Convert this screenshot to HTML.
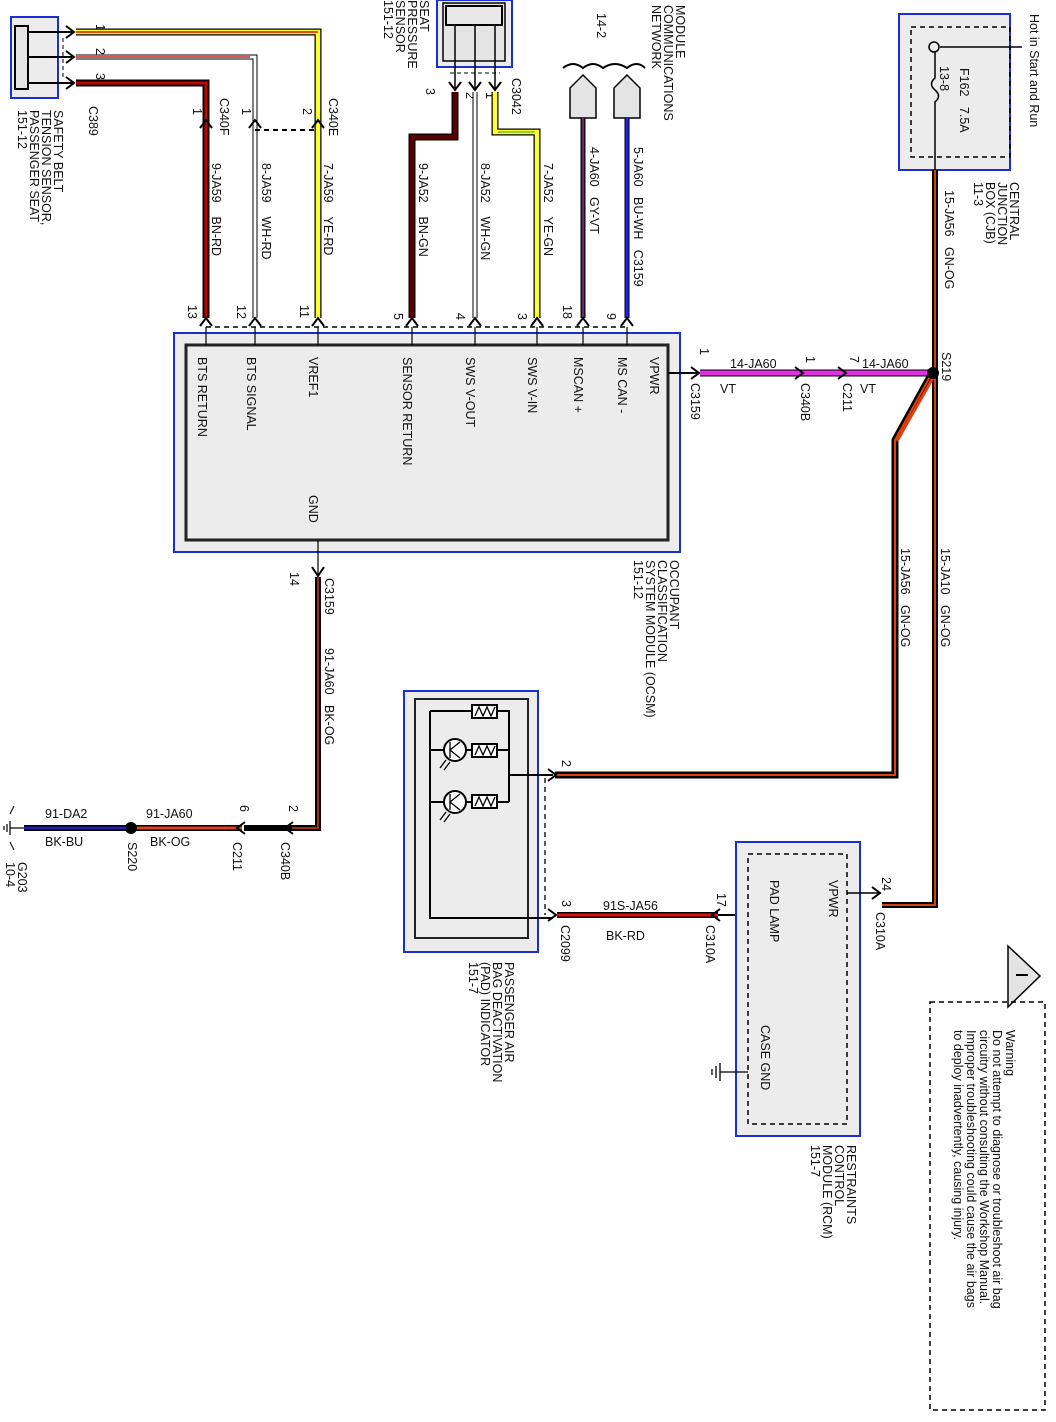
<!DOCTYPE html>
<html><head><meta charset="utf-8"><style>
html,body{margin:0;padding:0;background:#fff}
svg{display:block}
text{font-family:"Liberation Sans",Arial,sans-serif;font-size:12.5px;fill:#111}
</style></head><body>
<svg width="1056" height="1422" viewBox="0 0 1056 1422" xmlns="http://www.w3.org/2000/svg">

<!-- Safety belt sensor -->
<rect x="11" y="17" width="47" height="81" fill="#ececec" stroke="#1a2fd0" stroke-width="2"/>
<rect x="15" y="26" width="13" height="63" fill="#e4e4e4" stroke="#000" stroke-width="2"/>
<g stroke="#000" stroke-width="2"><line x1="28" y1="32" x2="72" y2="32"/><line x1="28" y1="57" x2="72" y2="57"/><line x1="28" y1="83" x2="72" y2="83"/></g>
<line x1="63" y1="38" x2="63" y2="80" stroke="#000" stroke-dasharray="4,3"/>
<g fill="none" stroke="#000" stroke-width="2"><path d="M66 26 L74 32 L66 38"/><path d="M66 51 L74 57 L66 63"/><path d="M66 77 L74 83 L66 89"/></g>
<text x="96" y="24" font-size="11" transform="rotate(90 96 24)">1</text>
<text x="96" y="48" font-size="11" transform="rotate(90 96 48)">2</text>
<text x="96" y="73" font-size="11" transform="rotate(90 96 73)">3</text>

<!-- wires from C389 -->
<path d="M76 32 H318 V318" fill="none" stroke="#000" stroke-width="7"/>
<path d="M76 32 H318 V318" fill="none" stroke="#ffff30" stroke-width="4.5"/>
<path d="M76 32 H318" fill="none" stroke="#e01010" stroke-width="1.5"/>
<path d="M76 57 H255 V318" fill="none" stroke="#000" stroke-width="5"/>
<path d="M76 57 H255 V318" fill="none" stroke="#fff" stroke-width="3"/>
<path d="M76 57 H250" fill="none" stroke="#d02020" stroke-width="1.5"/>
<path d="M76 83 H206 V318" fill="none" stroke="#000" stroke-width="7"/>
<path d="M76 83 H206 V318" fill="none" stroke="#6a0000" stroke-width="4.5"/>
<path d="M76 83 H206 V318" fill="none" stroke="#e01010" stroke-width="1.3"/>
<line x1="255" y1="130" x2="318" y2="130" stroke="#000" stroke-width="2" stroke-dasharray="5,4"/>
<g fill="none" stroke="#000" stroke-width="2"><path d="M200 128 L206 120 L212 128"/><path d="M249 128 L255 120 L261 128"/><path d="M312 128 L318 120 L324 128"/></g>
<text x="193" y="108" font-size="11" transform="rotate(90 193 108)">1</text>
<text x="242" y="108" font-size="11" transform="rotate(90 242 108)">1</text>
<text x="303" y="108" font-size="11" transform="rotate(90 303 108)">2</text>
<text x="220" y="98" transform="rotate(90 220 98)">C340F</text>
<text x="329" y="98" transform="rotate(90 329 98)">C340E</text>
<text x="212" y="163" transform="rotate(90 212 163)">9-JA59 &#160;&#160;&#160;BN-RD</text>
<text x="262" y="163" transform="rotate(90 262 163)">8-JA59 &#160;&#160;&#160;WH-RD</text>
<text x="324" y="163" transform="rotate(90 324 163)">7-JA59 &#160;&#160;&#160;YE-RD</text>
<text x="89" y="106" transform="rotate(90 89 106)">C389</text>
<text x="54" y="110" transform="rotate(90 54 110)">SAFETY BELT</text>
<text x="42" y="110" transform="rotate(90 42 110)">TENSION SENSOR,</text>
<text x="30" y="110" transform="rotate(90 30 110)">PASSENGER SEAT</text>
<text x="18" y="110" transform="rotate(90 18 110)">151-12</text>

<!-- Seat pressure sensor -->
<rect x="437" y="0" width="75" height="67" fill="#ececec" stroke="#1a2fd0" stroke-width="2"/>
<rect x="443" y="3" width="62" height="58" fill="#e4e4e4" stroke="#000" stroke-width="1.5"/>
<rect x="446" y="6" width="56" height="19" fill="#e8e8e8" stroke="#000" stroke-width="2"/>
<g stroke="#000" stroke-width="1.5"><line x1="455" y1="25" x2="455" y2="90"/><line x1="475" y1="25" x2="475" y2="90"/><line x1="495" y1="25" x2="495" y2="90"/></g>
<line x1="450" y1="73" x2="500" y2="73" stroke="#000" stroke-dasharray="4,3"/>
<g fill="none" stroke="#000" stroke-width="2"><path d="M449 82 L455 90 L461 82"/><path d="M469 82 L475 90 L481 82"/><path d="M489 82 L495 90 L501 82"/></g>
<text x="426" y="88" font-size="11" transform="rotate(90 426 88)">3</text>
<text x="466" y="92" font-size="11" transform="rotate(90 466 92)">2</text>
<text x="486" y="92" font-size="11" transform="rotate(90 486 92)">1</text>
<text x="512" y="78" transform="rotate(90 512 78)">C3042</text>
<text x="420" y="0" transform="rotate(90 420 0)">SEAT</text>
<text x="408" y="0" transform="rotate(90 408 0)">PRESSURE</text>
<text x="396" y="0" transform="rotate(90 396 0)">SENSOR</text>
<text x="384" y="0" transform="rotate(90 384 0)">151-12</text>

<path d="M455 92 V137 H412 V318" fill="none" stroke="#000" stroke-width="7"/>
<path d="M455 92 V137 H412 V318" fill="none" stroke="#5a0000" stroke-width="4.5"/>
<path d="M475 92 V318" fill="none" stroke="#000" stroke-width="5"/>
<path d="M475 92 V318" fill="none" stroke="#fff" stroke-width="3"/>
<path d="M495 92 V132 H537 V318" fill="none" stroke="#000" stroke-width="7"/>
<path d="M495 92 V132 H537 V318" fill="none" stroke="#ffff30" stroke-width="4.5"/>
<path d="M498 132 H535" fill="none" stroke="#30a030" stroke-width="1"/>
<text x="419" y="163" transform="rotate(90 419 163)">9-JA52 &#160;&#160;&#160;BN-GN</text>
<text x="481" y="163" transform="rotate(90 481 163)">8-JA52 &#160;&#160;&#160;WH-GN</text>
<text x="544" y="163" transform="rotate(90 544 163)">7-JA52 &#160;&#160;&#160;YE-GN</text>

<!-- Module comm network -->
<path d="M563 68 Q573 60 583 68 Q593 60 603 68 Q615 60 627 68 Q637 60 645 68" fill="none" stroke="#000" stroke-width="2"/>
<path d="M570 88 L583 75 L596 88 V118 H570 Z" fill="#e4e4e4" stroke="#000" stroke-width="1.5"/>
<path d="M614 88 L627 75 L640 88 V118 H614 Z" fill="#e4e4e4" stroke="#000" stroke-width="1.5"/>
<line x1="583" y1="118" x2="583" y2="318" stroke="#000" stroke-width="5"/>
<line x1="583" y1="118" x2="583" y2="318" stroke="#6a2a6a" stroke-width="2.5"/>
<line x1="627" y1="118" x2="627" y2="318" stroke="#000" stroke-width="5"/>
<line x1="627" y1="118" x2="627" y2="318" stroke="#2020f0" stroke-width="3"/>
<text x="597" y="13" transform="rotate(90 597 13)">14-2</text>
<text x="676" y="5" transform="rotate(90 676 5)">MODULE</text>
<text x="664" y="5" transform="rotate(90 664 5)">COMMUNICATIONS</text>
<text x="652" y="5" transform="rotate(90 652 5)">NETWORK</text>
<text x="590" y="147" transform="rotate(90 590 147)">4-JA60 &#160;&#160;GY-VT</text>
<text x="634" y="147" transform="rotate(90 634 147)">5-JA60 &#160;&#160;BU-WH &#160;&#160;C3159</text>

<!-- OCSM pins -->
<g fill="none" stroke="#000" stroke-width="2">
<path d="M200 326 L206 318 L212 326"/><path d="M249 326 L255 318 L261 326"/><path d="M312 326 L318 318 L324 326"/>
<path d="M406 326 L412 318 L418 326"/><path d="M469 326 L475 318 L481 326"/><path d="M531 326 L537 318 L543 326"/>
<path d="M577 326 L583 318 L589 326"/><path d="M621 326 L627 318 L633 326"/></g>
<line x1="206" y1="327" x2="627" y2="327" stroke="#000" stroke-width="1.5" stroke-dasharray="5,4"/>
<g font-size="11">
<text x="188" y="305" transform="rotate(90 188 305)">13</text>
<text x="237" y="305" transform="rotate(90 237 305)">12</text>
<text x="300" y="305" transform="rotate(90 300 305)">11</text>
<text x="394" y="313" transform="rotate(90 394 313)">5</text>
<text x="456" y="313" transform="rotate(90 456 313)">4</text>
<text x="518" y="313" transform="rotate(90 518 313)">3</text>
<text x="563" y="305" transform="rotate(90 563 305)">18</text>
<text x="607" y="313" transform="rotate(90 607 313)">9</text>
</g>

<!-- OCSM box -->
<rect x="174" y="333" width="506" height="219" fill="#ececec" stroke="#1a2fd0" stroke-width="2"/>
<rect x="186" y="345" width="482" height="195" fill="#ececec" stroke="#222" stroke-width="3"/>
<g stroke="#000" stroke-width="1.2"><line x1="206" y1="327" x2="206" y2="345"/><line x1="255" y1="327" x2="255" y2="345"/><line x1="318" y1="327" x2="318" y2="345"/><line x1="412" y1="327" x2="412" y2="345"/><line x1="475" y1="327" x2="475" y2="345"/><line x1="537" y1="327" x2="537" y2="345"/><line x1="583" y1="327" x2="583" y2="345"/><line x1="627" y1="327" x2="627" y2="345"/></g>
<text x="198" y="357" transform="rotate(90 198 357)">BTS RETURN</text>
<text x="247" y="357" transform="rotate(90 247 357)">BTS SIGNAL</text>
<text x="309" y="357" transform="rotate(90 309 357)">VREF1</text>
<text x="403" y="357" transform="rotate(90 403 357)">SENSOR RETURN</text>
<text x="466" y="357" transform="rotate(90 466 357)">SWS V-OUT</text>
<text x="528" y="357" transform="rotate(90 528 357)">SWS V-IN</text>
<text x="574" y="357" transform="rotate(90 574 357)">MSCAN +</text>
<text x="618" y="357" transform="rotate(90 618 357)">MS CAN -</text>
<text x="650" y="357" transform="rotate(90 650 357)">VPWR</text>
<text x="309" y="495" transform="rotate(90 309 495)">GND</text>
<text x="670" y="560" transform="rotate(90 670 560)">OCCUPANT</text>
<text x="658" y="560" transform="rotate(90 658 560)">CLASSIFICATION</text>
<text x="646" y="560" transform="rotate(90 646 560)">SYSTEM MODULE (OCSM)</text>
<text x="634" y="560" transform="rotate(90 634 560)">151-12</text>

<!-- VPWR wire -->
<line x1="668" y1="373" x2="698" y2="373" stroke="#000" stroke-width="2"/>
<path d="M691 367 L699 373 L691 379" fill="none" stroke="#000" stroke-width="2"/>
<line x1="700" y1="373" x2="932" y2="373" stroke="#000" stroke-width="7"/>
<line x1="700" y1="373" x2="932" y2="373" stroke="#e030e0" stroke-width="5"/>
<g fill="none" stroke="#000" stroke-width="2"><path d="M795 367 L803 373 L795 379"/><path d="M838 367 L846 373 L838 379"/></g>
<text x="700" y="348" font-size="11" transform="rotate(90 700 348)">1</text>
<text x="806" y="356" font-size="11" transform="rotate(90 806 356)">1</text>
<text x="850" y="356" font-size="11" transform="rotate(90 850 356)">7</text>
<text x="730" y="368">14-JA60</text>
<text x="862" y="368">14-JA60</text>
<text x="720" y="393">VT</text>
<text x="860" y="393">VT</text>
<text x="691" y="383" transform="rotate(90 691 383)">C3159</text>
<text x="801" y="383" transform="rotate(90 801 383)">C340B</text>
<text x="843" y="383" transform="rotate(90 843 383)">C211</text>
<text x="942" y="352" transform="rotate(90 942 352)">S219</text>

<!-- CJB -->
<rect x="899" y="14" width="111" height="156" fill="#ececec" stroke="#1a2fd0" stroke-width="2"/>
<rect x="911" y="27" width="99" height="130" fill="none" stroke="#000" stroke-width="1.5" stroke-dasharray="5,4"/>
<line x1="940" y1="47" x2="1022" y2="47" stroke="#000" stroke-width="1.5"/>
<circle cx="934" cy="47" r="5" fill="#ececec" stroke="#000" stroke-width="1.5"/>
<path d="M935 52 V78 Q928 84 935 90 Q942 96 935 102 V170" fill="none" stroke="#000" stroke-width="1.5"/>
<text x="1030" y="14" transform="rotate(90 1030 14)">Hot in Start and Run</text>
<text x="960" y="68" transform="rotate(90 960 68)">F162 &#160;&#160;7.5A</text>
<text x="940" y="66" transform="rotate(90 940 66)">13-8</text>
<text x="1010" y="182" transform="rotate(90 1010 182)">CENTRAL</text>
<text x="998" y="182" transform="rotate(90 998 182)">JUNCTION</text>
<text x="986" y="182" transform="rotate(90 986 182)">BOX (CJB)</text>
<text x="974" y="182" transform="rotate(90 974 182)">11-3</text>
<text x="945" y="190" transform="rotate(90 945 190)">15-JA56 &#160;&#160;GN-OG</text>

<!-- Main power wires -->
<path d="M935 170 V905 H882" fill="none" stroke="#000" stroke-width="6"/>
<path d="M935 170 V905 H882" fill="none" stroke="#d04010" stroke-width="2"/>
<path d="M932 373 L895 440 V775 H555" fill="none" stroke="#000" stroke-width="7"/>
<path d="M932 373 L895 440 V775 H555" fill="none" stroke="#e04010" stroke-width="2"/>
<path d="M934 376 L897 441" fill="none" stroke="#e04010" stroke-width="3"/>
<circle cx="933" cy="373" r="6" fill="#000"/>
<text x="901" y="548" transform="rotate(90 901 548)">15-JA56 &#160;&#160;GN-OG</text>
<text x="941" y="548" transform="rotate(90 941 548)">15-JA10 &#160;&#160;GN-OG</text>

<!-- GND wire -->
<line x1="318" y1="540" x2="318" y2="575" stroke="#000" stroke-width="1.2"/>
<path d="M312 567 L318 576 L324 567" fill="none" stroke="#000" stroke-width="2"/>
<path d="M318 577 V828 H292" fill="none" stroke="#000" stroke-width="6"/>
<path d="M318 577 V828 H292" fill="none" stroke="#d04010" stroke-width="1.5"/>
<text x="290" y="572" font-size="11" transform="rotate(90 290 572)">14</text>
<text x="325" y="578" transform="rotate(90 325 578)">C3159</text>
<text x="325" y="648" transform="rotate(90 325 648)">91-JA60 &#160;&#160;BK-OG</text>
<line x1="292" y1="828" x2="244" y2="828" stroke="#000" stroke-width="6"/>
<line x1="242" y1="828" x2="136" y2="828" stroke="#000" stroke-width="6"/>
<line x1="242" y1="828" x2="136" y2="828" stroke="#e04020" stroke-width="3"/>
<g fill="none" stroke="#000" stroke-width="2"><path d="M293 822 L285 828 L293 834"/><path d="M245 822 L237 828 L245 834"/></g>
<text x="289" y="805" font-size="11" transform="rotate(90 289 805)">2</text>
<text x="240" y="805" font-size="11" transform="rotate(90 240 805)">6</text>
<text x="281" y="842" transform="rotate(90 281 842)">C340B</text>
<text x="233" y="842" transform="rotate(90 233 842)">C211</text>
<text x="146" y="818">91-JA60</text>
<text x="150" y="846">BK-OG</text>
<circle cx="131" cy="828" r="6" fill="#000"/>
<text x="128" y="842" transform="rotate(90 128 842)">S220</text>
<line x1="126" y1="828" x2="24" y2="828" stroke="#000" stroke-width="6"/>
<line x1="126" y1="828" x2="24" y2="828" stroke="#2020b0" stroke-width="3"/>
<text x="45" y="818">91-DA2</text>
<text x="45" y="846">BK-BU</text>
<g stroke="#000" stroke-width="1.2"><line x1="24" y1="828" x2="10" y2="828"/><line x1="10" y1="821" x2="10" y2="835"/><line x1="7" y1="824" x2="7" y2="832"/><line x1="4" y1="826" x2="4" y2="830"/></g>
<path d="M14 806 L10 814 M14 850 L10 842" stroke="#000" stroke-width="1"/>
<text x="18" y="862" transform="rotate(90 18 862)">G203</text>
<text x="6" y="862" transform="rotate(90 6 862)">10-4</text>

<!-- PAD indicator -->
<rect x="404" y="691" width="134" height="261" fill="#ececec" stroke="#1a2fd0" stroke-width="2"/>
<rect x="415" y="699" width="113" height="239" fill="#ececec" stroke="#222" stroke-width="2"/>
<g stroke="#000" stroke-width="2" fill="none">
<path d="M430 711 V918 H553"/><path d="M430 711 H509 V802"/><path d="M509 775 H553"/>
<path d="M430 750 H509"/><path d="M430 802 H509"/>
</g>
<g fill="#fff" stroke="#000" stroke-width="2">
<rect x="472" y="705" width="25" height="13"/><rect x="472" y="744" width="25" height="13"/><rect x="472" y="795" width="25" height="13"/>
<circle cx="455" cy="750" r="11"/><circle cx="455" cy="802" r="11"/>
</g>
<g stroke="#000" stroke-width="1.3" fill="none">
<path d="M475 716 L479 707 L483 716 L487 707 L491 716 L495 707"/>
<path d="M475 755 L479 746 L483 755 L487 746 L491 755 L495 746"/>
<path d="M475 806 L479 797 L483 806 L487 797 L491 806 L495 797"/>
<path d="M450 742 V758 M450 750 L460 742 M450 750 L460 758"/>
<path d="M450 794 V810 M450 802 L460 794 M450 802 L460 810"/>
<path d="M446 760 L440 768 M450 762 L444 770"/><path d="M446 812 L440 820 M450 814 L444 822"/>
</g>
<line x1="545" y1="778" x2="545" y2="915" stroke="#000" stroke-width="1.3" stroke-dasharray="5,4"/>
<g fill="none" stroke="#000" stroke-width="2"><path d="M548 769 L556 775 L548 781"/><path d="M548 909 L556 915 L548 921"/></g>
<text x="562" y="760" font-size="11" transform="rotate(90 562 760)">2</text>
<text x="562" y="900" font-size="11" transform="rotate(90 562 900)">3</text>
<text x="561" y="925" transform="rotate(90 561 925)">C2099</text>
<text x="505" y="962" transform="rotate(90 505 962)">PASSENGER AIR</text>
<text x="493" y="962" transform="rotate(90 493 962)">BAG DEACTIVATION</text>
<text x="481" y="962" transform="rotate(90 481 962)">(PAD) INDICATOR</text>
<text x="469" y="962" transform="rotate(90 469 962)">151-7</text>

<!-- 91S-JA56 -->
<line x1="557" y1="915" x2="718" y2="915" stroke="#000" stroke-width="6"/>
<line x1="557" y1="915" x2="718" y2="915" stroke="#e01010" stroke-width="3"/>
<line x1="718" y1="915" x2="748" y2="915" stroke="#000" stroke-width="2"/>
<path d="M720 909 L712 915 L720 921" fill="none" stroke="#000" stroke-width="2"/>
<text x="603" y="910">91S-JA56</text>
<text x="606" y="940">BK-RD</text>
<text x="717" y="893" font-size="11" transform="rotate(90 717 893)">17</text>
<text x="706" y="925" transform="rotate(90 706 925)">C310A</text>

<!-- RCM -->
<rect x="736" y="842" width="124" height="294" fill="#ececec" stroke="#1a2fd0" stroke-width="2"/>
<rect x="748" y="854" width="99" height="270" fill="none" stroke="#000" stroke-width="1.5" stroke-dasharray="5,4"/>
<line x1="847" y1="893" x2="880" y2="893" stroke="#000" stroke-width="1.5"/>
<path d="M872 887 L880 893 L872 899" fill="none" stroke="#000" stroke-width="2"/>
<text x="882" y="877" font-size="11" transform="rotate(90 882 877)">24</text>
<text x="876" y="912" transform="rotate(90 876 912)">C310A</text>
<text x="829" y="880" transform="rotate(90 829 880)">VPWR</text>
<text x="770" y="880" transform="rotate(90 770 880)">PAD LAMP</text>
<text x="761" y="1025" transform="rotate(90 761 1025)">CASE GND</text>
<g stroke="#000" stroke-width="1.3"><line x1="748" y1="1072" x2="720" y2="1072"/><line x1="720" y1="1063" x2="720" y2="1081"/><line x1="716" y1="1066" x2="716" y2="1078"/><line x1="712" y1="1069" x2="712" y2="1075"/></g>
<text x="847" y="1145" transform="rotate(90 847 1145)">RESTRAINTS</text>
<text x="835" y="1145" transform="rotate(90 835 1145)">CONTROL</text>
<text x="823" y="1145" transform="rotate(90 823 1145)">MODULE (RCM)</text>
<text x="811" y="1145" transform="rotate(90 811 1145)">151-7</text>

<!-- Warning -->
<path d="M1008 946 L1040 976 L1008 1007 Z" fill="#e4e4e4" stroke="#000" stroke-width="1.5"/>
<line x1="1016" y1="975" x2="1028" y2="975" stroke="#000" stroke-width="2"/>
<rect x="930" y="1002" width="115" height="408" fill="none" stroke="#000" stroke-width="1.5" stroke-dasharray="5,4"/>
<text x="1006" y="1030" transform="rotate(90 1006 1030)">Warning</text>
<text x="993" y="1030" transform="rotate(90 993 1030)">Do not attempt to diagnose or troubleshoot air bag</text>
<text x="980" y="1030" transform="rotate(90 980 1030)">circuitry without consulting the Workshop Manual.</text>
<text x="967" y="1030" transform="rotate(90 967 1030)">Improper troubleshooting could cause the air bags</text>
<text x="954" y="1030" transform="rotate(90 954 1030)">to deploy inadvertently, causing injury.</text>
</svg>
</body></html>
